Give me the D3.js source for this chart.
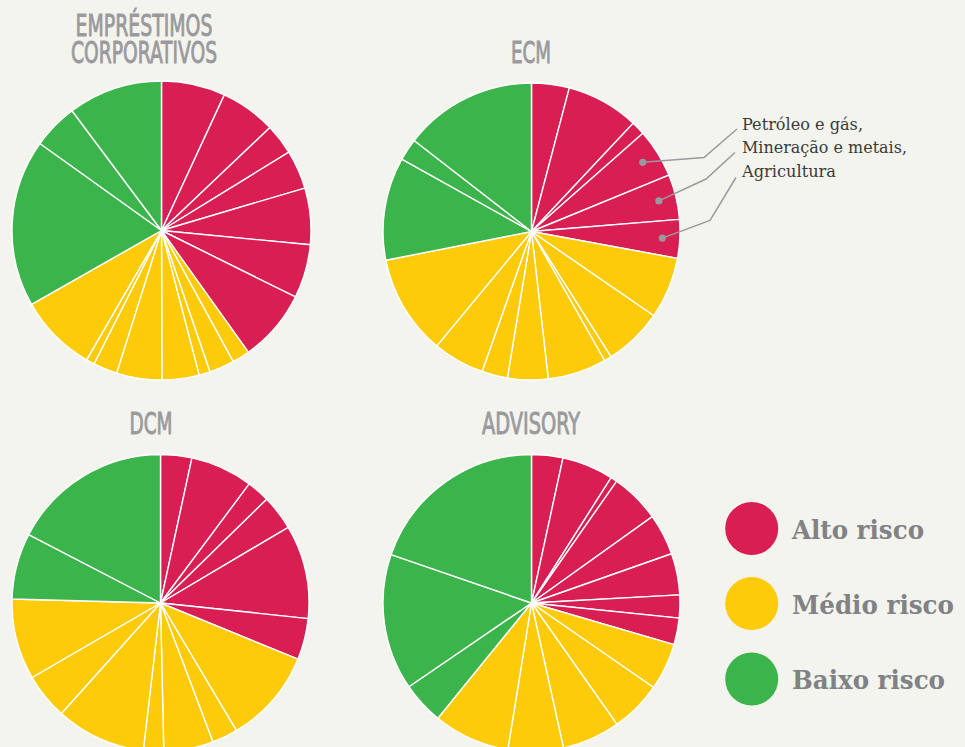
<!DOCTYPE html>
<html>
<head>
<meta charset="utf-8">
<script src="https://cdn.jsdelivr.net/npm/d3@7"></script>
<style>
  html, body { margin: 0; padding: 0; background: #F4F4EE; }
  svg { display: block; }
</style>
</head>
<body>
<svg id="chart" width="965" height="747"></svg>
<script>
// ---------------- DATA ----------------
const categories = ["Empréstimos Corporativos", "ECM", "DCM", "Advisory"];
const titleLines = [["EMPRÉSTIMOS", "CORPORATIVOS"], ["ECM"], ["DCM"], ["ADVISORY"]];
const riskLevels = ["Alto risco", "Médio risco", "Baixo risco"];

// slice shares (%), clockwise from 12 o'clock
const emprestimosAlto  = [6.9, 6.0, 3.3, 4.2, 6.1, 5.8, 7.8];
const emprestimosMedio = [1.9, 2.7, 1.2, 4.0, 4.9, 2.6, 0.9, 8.4];
const emprestimosBaixo = [18.1, 4.9, 10.2];

const ecmAlto  = [4.1, 7.9, 1.5, 5.3, 4.9, 4.2];
const ecmMedio = [6.7, 6.4, 0.8, 6.4, 4.4, 2.8, 5.6, 10.9];
const ecmBaixo = [11.2, 2.4, 14.5];

const dcmAlto  = [3.4, 6.8, 2.5, 3.8, 10.2, 4.5];
const dcmMedio = [10.3, 2.8, 5.4, 2.2, 9.8, 5.0, 8.8];
const dcmBaixo = [7.2, 17.4];

const advisoryAlto  = [3.4, 5.6, 0.7, 5.4, 4.5, 4.5, 2.5, 2.9];
const advisoryMedio = [5.1, 5.6, 6.3, 6.0, 8.3];
const advisoryBaixo = [4.6, 14.8, 19.7];

const annotationLines = ["Petróleo e gás,", "Mineração e metais,", "Agricultura"];
const annotatedSlices = [3, 4, 5]; // indexes of ECM high-risk slices being annotated

// ---------------- CHART ----------------
const svg = d3.select("#chart");
const colors = { "Alto risco": "#D81E53", "Médio risco": "#FECB0B", "Baixo risco": "#3BB54B" };
const colorScale = d3.scaleOrdinal().domain(riskLevels).range(riskLevels.map(r => colors[r]));

const seriesByPie = [
  [emprestimosAlto, emprestimosMedio, emprestimosBaixo],
  [ecmAlto, ecmMedio, ecmBaixo],
  [dcmAlto, dcmMedio, dcmBaixo],
  [advisoryAlto, advisoryMedio, advisoryBaixo]
];

const layout = [
  { cx: 161.5, cy: 230.5, r: 149.5, tx: 144, ty: [35.5, 63], tw: [137, 146] },
  { cx: 531.5, cy: 231.5, r: 148.5, tx: 531, ty: [63], tw: [40] },
  { cx: 160.5, cy: 603,   r: 148.5, tx: 151, ty: [434], tw: [43] },
  { cx: 531.5, cy: 603,   r: 148.5, tx: 531, ty: [433.5], tw: [98] }
];

const pie = d3.pie().sort(null).value(d => d.value);

categories.forEach((cat, i) => {
  const L = layout[i];
  const rows = [];
  seriesByPie[i].forEach((arr, k) => arr.forEach((v, j) => rows.push({ risk: riskLevels[k], value: v, idx: j })));
  const arcs = pie(rows);
  const arc = d3.arc().innerRadius(0).outerRadius(L.r);
  const g = svg.append("g").attr("transform", `translate(${L.cx},${L.cy})`);
  g.selectAll("path").data(arcs).join("path")
    .attr("d", arc)
    .attr("fill", d => colorScale(d.data.risk))
    .attr("stroke", "#ffffff")
    .attr("stroke-width", 1.4)
    .attr("stroke-linejoin", "round");

  // title (one text element, one tspan per line)
  const t = svg.append("text")
    .attr("text-anchor", "middle")
    .attr("font-family", "'Liberation Sans Narrow', 'DejaVu Sans Condensed', 'Arial Narrow', sans-serif")
    .attr("font-weight", "normal")
    .attr("font-size", 30)
    .attr("fill", "#9A9A9E")
    .attr("stroke", "#9A9A9E")
    .attr("stroke-width", 0.9);
  titleLines[i].forEach((line, li) => {
    t.append("tspan")
      .attr("x", L.tx).attr("y", L.ty[li])
      .attr("textLength", L.tw[li])
      .attr("lengthAdjust", "spacingAndGlyphs")
      .text(line);
  });

  // annotation on ECM
  if (i === 1) {
    const highArcs = arcs.filter(d => d.data.risk === "Alto risco");
    const dotArc = d3.arc().innerRadius(131).outerRadius(131);
    const elbows = [[704, 157.5], [706, 179], [710, 220.5]];
    const ends = [[737, 129], [735, 152.5], [736, 177.5]];
    annotatedSlices.forEach((si, k) => {
      const c = dotArc.centroid(highArcs[si]);
      const px = L.cx + c[0], py = L.cy + c[1];
      svg.append("polyline")
        .attr("points", [[px, py], elbows[k], ends[k]].map(p => p.join(",")).join(" "))
        .attr("fill", "none").attr("stroke", "#9A9A9E").attr("stroke-width", 1.5);
      svg.append("circle").attr("cx", px).attr("cy", py).attr("r", 3.6).attr("fill", "#9A9A9E");
    });
    const annW = [121, 165, 94];
    const annY = [129.5, 153.3, 177];
    annotationLines.forEach((t, k) => {
      svg.append("text")
        .attr("x", 742).attr("y", annY[k])
        .attr("font-family", "'DejaVu Serif', Georgia, serif")
        .attr("font-size", 16.5)
        .attr("fill", "#3A3A3A")
        .attr("textLength", annW[k])
        .attr("lengthAdjust", "spacingAndGlyphs")
        .text(t);
    });
  }
});

// legend
const legendY = [528.5, 603.5, 679];
const legendW = [132, 162, 153];
riskLevels.forEach((r, k) => {
  svg.append("circle").attr("cx", 751.7).attr("cy", legendY[k]).attr("r", 26.5).attr("fill", colorScale(r));
  svg.append("text")
    .attr("x", 792).attr("y", legendY[k] + 10)
    .attr("font-family", "'DejaVu Serif', Georgia, serif")
    .attr("font-weight", "bold")
    .attr("font-size", 26.5)
    .attr("fill", "#808285")
    .attr("textLength", legendW[k])
    .attr("lengthAdjust", "spacingAndGlyphs")
    .text(r);
});
</script>
</body>
</html>
